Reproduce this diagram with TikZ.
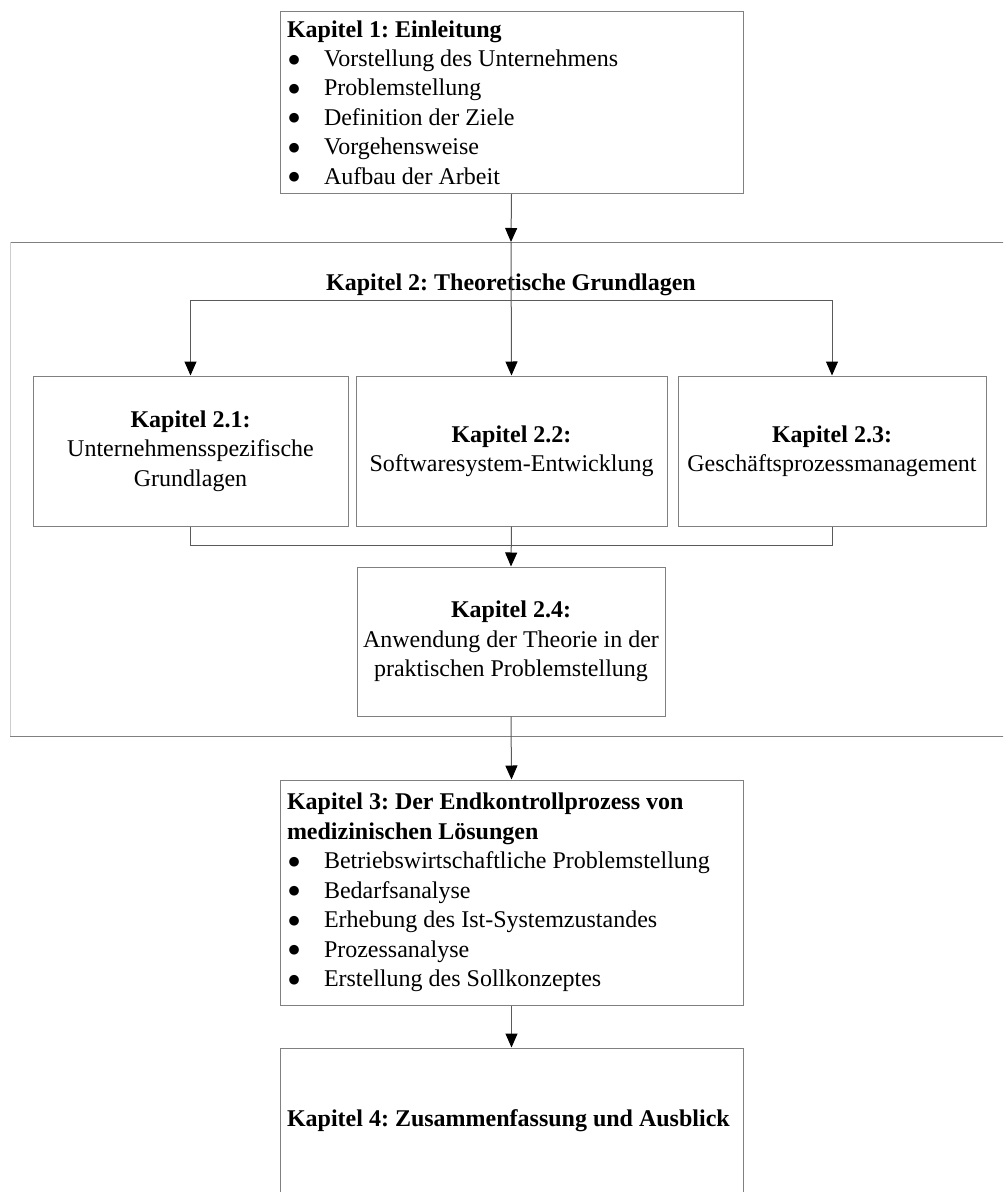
\documentclass[tikz,border=0pt]{standalone}
\usepackage{fontspec}
\setmainfont{Liberation Serif}
\newfontfamily\symfont{DejaVu Sans}
\usetikzlibrary{arrows.meta}
\frenchspacing
\definecolor{boxgray}{RGB}{128,128,128}
\definecolor{linegray}{RGB}{90,90,90}
\definecolor{edgelight}{RGB}{205,205,205}
% list line: filled round bullet, then the item text at a fixed indent
\newcommand{\bul}[1]{\makebox[27.75pt][l]{\hspace{1.2pt}\raisebox{2.6pt}{\symfont\fontsize{9.5}{10}\selectfont ●}}#1}
\tikzset{
  box/.style 2 args={draw=boxgray, line width=0.75pt, inner sep=0pt,
    minimum width=#1*0.75pt, minimum height=#2*0.75pt,
    font=\fontsize{18}{22.1}\selectfont},
  listbox/.style={align=flush left, text width=#1*0.75pt-10.5pt},
  centerbox/.style={align=flush center, text width=#1*0.75pt-6pt},
  arr/.style={draw=linegray, line width=0.75pt,
    -{Triangle[width=9pt,length=10.5pt,color=black]}},
  link/.style={draw=linegray, line width=0.75pt},
}
\begin{document}
\begin{tikzpicture}[x=0.75pt,y=-0.75pt]
\useasboundingbox (0,0) rectangle (1003,1192);
\clip (0,0) rectangle (1003,1192);

% chapter 2 frame
\draw[boxgray, line width=0.75pt] (1010,242) -- (10,242);
\draw[boxgray, line width=0.75pt] (10,736) -- (1010,736);
\draw[edgelight, line width=0.75pt] (10,242) -- (10,736);
\coordinate (ftop) at (511,242);

% chapter 1
\node[box={463}{182}, listbox=463] (k1) at (511.5,102.5) {%
  \textbf{Kapitel 1: Einleitung}\\
  \bul{Vorstellung des Unternehmens}\\
  \bul{Problemstellung}\\
  \bul{Definition der Ziele}\\
  \bul{Vorgehensweise}\\
  \bul{Aufbau der Arbeit}};

% chapter 2 title
\node[font=\fontsize{18}{22.1}\selectfont\bfseries, inner sep=0pt] (k2) at (511,284.5) {Kapitel 2: Theoretische Grundlagen};

% sub-chapters
\node[box={315}{150}, centerbox=315] (k21) at (190.5,451) {%
  \textbf{Kapitel 2.1:}\\Unternehmensspezifische\\Grundlagen};
\node[box={311}{150}, centerbox=311] (k22) at (511.5,451) {%
  \textbf{Kapitel 2.2:}\\Softwaresystem-Entwicklung};
\node[box={308}{150}, centerbox=308] (k23) at (832,451) {%
  \textbf{Kapitel 2.3:}\\Geschäftsprozessmanagement};
\node[box={308}{149}, centerbox=308] (k24) at (511,641.5) {%
  \textbf{Kapitel 2.4:}\\Anwendung der Theorie in der\\praktischen Problemstellung};

% chapter 3
\node[box={463}{225}, listbox=463] (k3) at (511.5,892.5) {%
  \textbf{Kapitel 3: Der Endkontrollprozess von}\\
  \textbf{medizinischen Lösungen}\\
  \bul{Betriebswirtschaftliche Problemstellung}\\
  \bul{Bedarfsanalyse}\\
  \bul{Erhebung des Ist-Systemzustandes}\\
  \bul{Prozessanalyse}\\
  \bul{Erstellung des Sollkonzeptes}};

% chapter 4
\node[box={463}{146}, listbox=463] (k4) at (511.5,1121) {%
  \textbf{Kapitel 4: Zusammenfassung und Ausblick}};

% connectors
\draw[arr] (k1.south) -- (ftop);
\coordinate (split) at (511,300);
\draw[arr] (ftop) -- (k22.north);
\draw[link] (k21.north |- split) -- (k23.north |- split);
\draw[arr] (k21.north |- split) -- (k21.north);
\draw[arr] (k23.north |- split) -- (k23.north);
\coordinate (join) at (511,545);
\draw[link] (k21.south) -- (k21.south |- join) -- (k23.south |- join) -- (k23.south);
\draw[arr] (k22.south) -- (k24.north);
\draw[arr] (k24.south) -- (k3.north);
\draw[arr] (k3.south) -- (k4.north);
\end{tikzpicture}
\end{document}
